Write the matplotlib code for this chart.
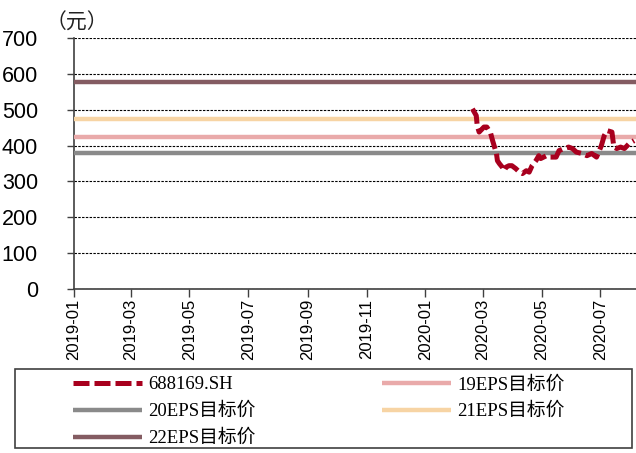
import matplotlib
matplotlib.use("Agg")
import matplotlib.pyplot as plt
import matplotlib.dates as mdates
from matplotlib.patches import Rectangle
import numpy as np
import pandas as pd

# 688169.SH close price
price_dates = [
    "2020-02-19", "2020-02-23", "2020-02-24", "2020-02-26", "2020-03-02",
    "2020-03-05", "2020-03-09", "2020-03-11", "2020-03-13", "2020-03-15",
    "2020-03-16", "2020-03-18", "2020-03-21", "2020-03-23", "2020-03-25",
    "2020-03-28", "2020-03-31", "2020-04-04", "2020-04-08", "2020-04-11",
    "2020-04-15", "2020-04-18", "2020-04-21", "2020-04-25", "2020-04-28",
    "2020-04-30", "2020-05-06", "2020-05-09", "2020-05-12", "2020-05-16",
    "2020-05-19", "2020-05-24", "2020-05-29", "2020-06-02", "2020-06-06",
    "2020-06-12", "2020-06-17", "2020-06-22", "2020-06-27", "2020-07-02",
    "2020-07-05", "2020-07-08", "2020-07-13", "2020-07-15", "2020-07-18",
    "2020-07-22", "2020-07-26", "2020-07-31", "2020-08-05",
]
price = [
    503, 484, 456, 438, 452, 452, 434, 414, 396, 378,
    358, 350, 340, 330, 340, 344, 344, 336, 326, 322,
    330, 326, 344, 358, 372, 364, 372, 368, 368, 368,
    386, 392, 396, 392, 382, 378, 372, 378, 368, 400,
    428, 442, 438, 396, 392, 396, 392, 406, 414,
]

# target prices
target_names = ["19EPS目标价", "20EPS目标价", "21EPS目标价", "22EPS目标价"]
target_values = [424, 379, 474, 578]
target_colors = ["#E9AAAA", "#8A8A8A", "#F7D4A4", "#845C62"]

x_start = pd.Timestamp("2019-01-01")
x_end = pd.Timestamp("2020-08-07")
tick_dates = pd.date_range("2019-01-01", "2020-07-01", freq="2MS")
y_ticks = [0, 100, 200, 300, 400, 500, 600, 700]

fig = plt.figure(figsize=(6.36, 4.53), dpi=100)
ax = fig.add_axes([74 / 636, 1 - 288.8 / 453, 1 - 74 / 636, (288.8 - 38.3) / 453])

handles = {}
(h,) = ax.plot(pd.to_datetime(price_dates), price, color="#A8001E", lw=3.6,
               ls=(0, (3.2, 1.0)), zorder=5)
handles["688169.SH"] = h
for name, val, col in zip(target_names, target_values, target_colors):
    (h,) = ax.plot([x_start, x_end], [val, val], color=col, lw=3.2, zorder=4,
                   solid_capstyle="butt")
    handles[name] = h

ax.set_xlim(x_start, x_end)
ax.set_ylim(0, 700)
ax.set_yticks(y_ticks)
ax.set_xticks(tick_dates)
ax.xaxis.set_major_formatter(mdates.DateFormatter("%Y-%m"))
ax.grid(axis="y", color="black", ls=(0, (2.2, 1.2)), lw=0.8)
ax.set_axisbelow(True)

for s in ["top", "right"]:
    ax.spines[s].set_visible(False)
for s in ["left", "bottom"]:
    ax.spines[s].set_color("#404040")
    ax.spines[s].set_linewidth(1.2)

ax.tick_params(axis="y", length=5, width=1, color="#404040", pad=21,
               labelsize=15.5, labelfontfamily="Liberation Sans")
ax.tick_params(axis="x", length=6, width=1, color="#404040", pad=1,
               labelsize=12, labelrotation=90, labelfontfamily="Liberation Sans")

fig.text(46 / 636, 1 - 23 / 453, "（元）", fontsize=15, va="center", ha="left",
         family=["Noto Sans CJK SC", "DejaVu Sans"], color="#222222")

# legend frame drawn separately
fig.patches.append(Rectangle((15 / 636, 1 - 448 / 453), 617 / 636, 79 / 453,
                             transform=fig.transFigure, fill=False,
                             edgecolor="#404040", lw=1.2))

order = ["688169.SH", "20EPS目标价", "22EPS目标价", "19EPS目标价", "21EPS目标价"]
leg = fig.legend([handles[k] for k in order], order, ncol=2, frameon=False,
                 loc="upper left", bbox_to_anchor=(73 / 636, 1 - 376 / 453),
                 borderpad=0, borderaxespad=0, handlelength=3.7,
                 handletextpad=0.3, columnspacing=6.75, labelspacing=0.5,
                 prop={"family": ["Liberation Serif", "Noto Sans CJK SC"], "size": 13.5})

fig.savefig("out.png", dpi=100)
